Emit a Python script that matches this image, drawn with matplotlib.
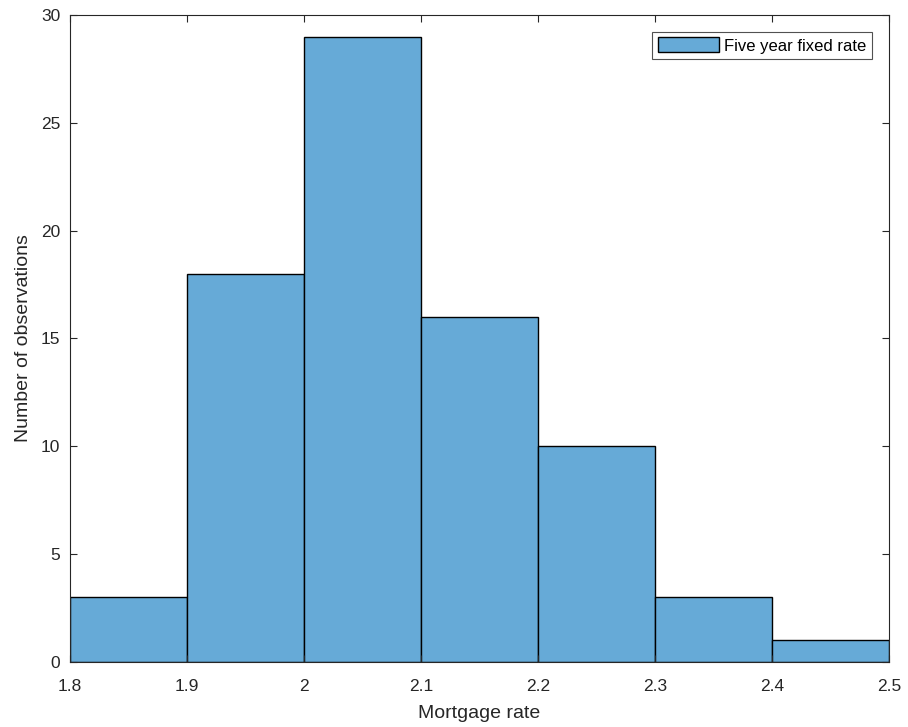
import matplotlib
matplotlib.use("Agg")
import matplotlib.pyplot as plt

# Histogram of five year fixed mortgage rates
bin_edges = [1.8, 1.9, 2.0, 2.1, 2.2, 2.3, 2.4, 2.5]
counts = [3, 18, 29, 16, 10, 3, 1]
x_ticks = [1.8, 1.9, 2.0, 2.1, 2.2, 2.3, 2.4, 2.5]
x_tick_labels = ["1.8", "1.9", "2", "2.1", "2.2", "2.3", "2.4", "2.5"]
y_ticks = [0, 5, 10, 15, 20, 25, 30]

plt.rcParams["font.family"] = ["Liberation Sans", "DejaVu Sans"]

fig = plt.figure(figsize=(9.08, 7.27), dpi=100)
ax = fig.add_axes([0.0771, 0.0894, 0.902, 0.890])

ax.hist(bin_edges[:-1], bins=bin_edges, weights=counts,
        color="#66aad7", edgecolor="black", linewidth=1.0,
        label="Five year fixed rate")

ax.set_xlim(1.8, 2.5)
ax.set_ylim(0, 30)
ax.set_xticks(x_ticks)
ax.set_xticklabels(x_tick_labels)
ax.set_yticks(y_ticks)

ax.tick_params(direction="in", top=True, right=True, length=5,
               width=0.8, colors="#262626", labelsize=12.5)
ax.tick_params(axis="x", pad=12)
ax.tick_params(axis="y", pad=7)
for spine in ax.spines.values():
    spine.set_color("#262626")
    spine.set_linewidth(0.8)

ax.set_xlabel("Mortgage rate", fontsize=14, color="#262626", labelpad=8)
ax.set_ylabel("Number of observations", fontsize=14, color="#262626",
              labelpad=6)

leg = ax.legend(loc="upper right", fontsize=12, fancybox=False,
                handlelength=3.7, handleheight=1.0, handletextpad=0.3,
                borderpad=0.35, borderaxespad=1.0)
leg.get_frame().set_edgecolor("#262626")
leg.get_frame().set_linewidth(0.8)

fig.savefig("out.png", dpi=100)
